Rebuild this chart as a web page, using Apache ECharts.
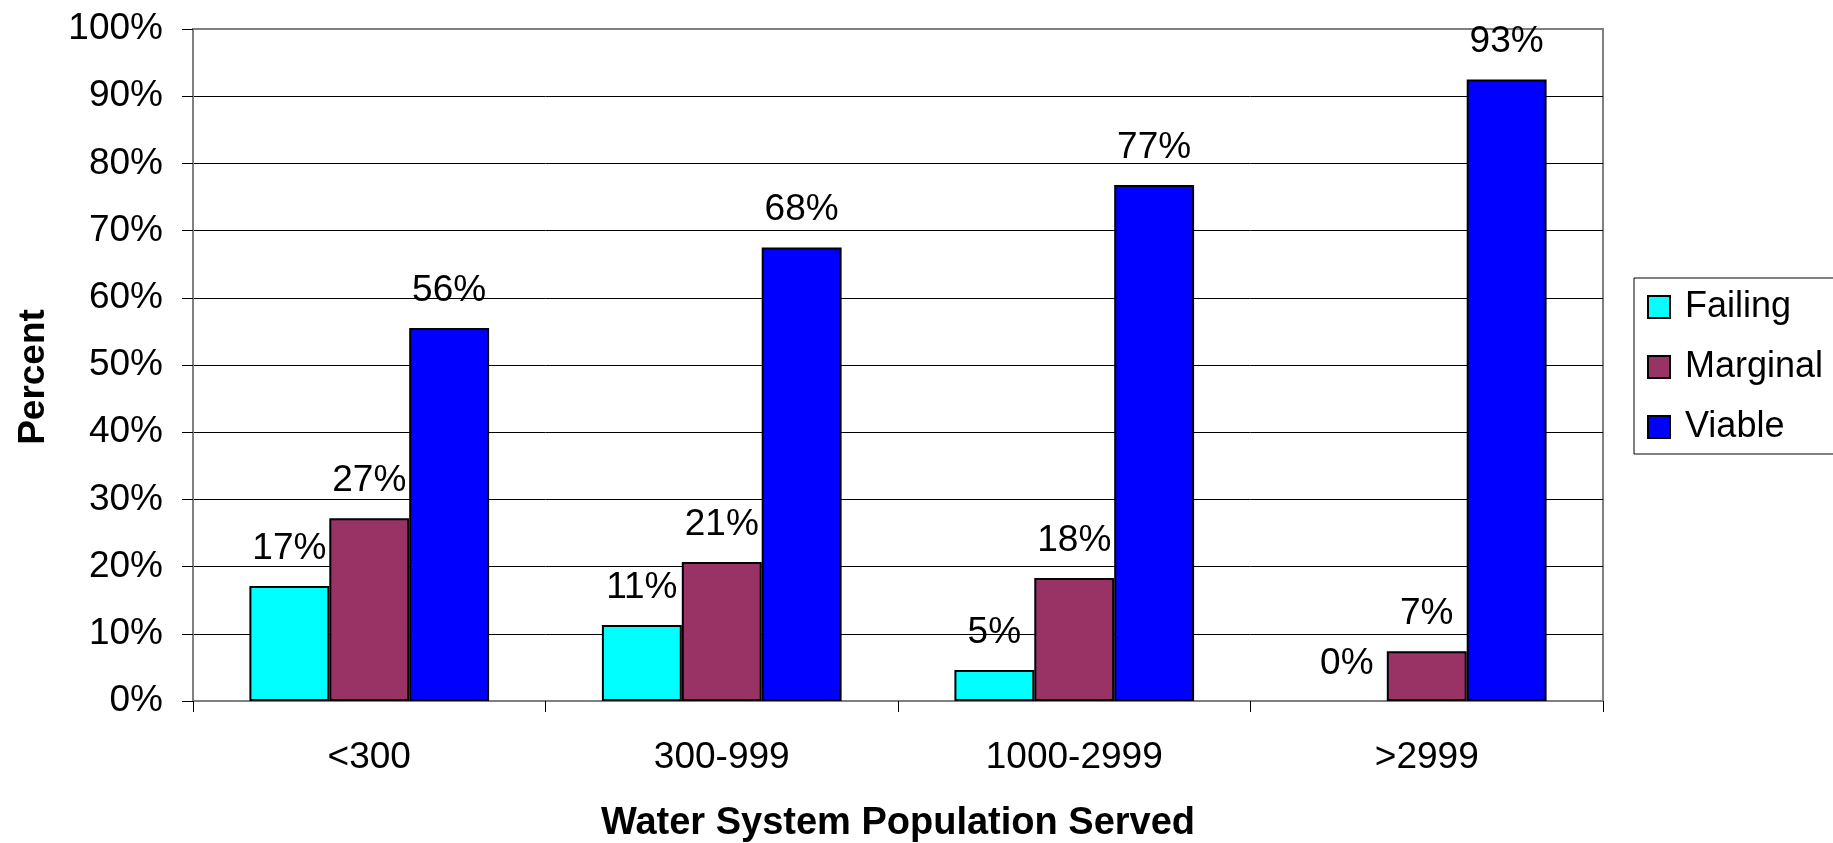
<!DOCTYPE html>
<html>
<head>
<meta charset="utf-8">
<title>Water System Viability by Population Served</title>
<script src="https://cdn.jsdelivr.net/npm/echarts@6/dist/echarts.min.js"></script>
<style>
  html, body { margin: 0; padding: 0; background: #ffffff; }
  #chart { width: 1833px; height: 843px; }
</style>
</head>
<body>
<div id="chart"></div>
<script>
// Population-served size classes
const categories = ['<300', '300-999', '1000-2999', '>2999'];

// Percent of water systems in each viability class
const failing  = [17.1, 11.3, 4.6, 0];
const marginal = [27.2, 20.7, 18.3, 7.4];
const viable   = [55.5, 67.5, 76.8, 92.5];

// Value axis ticks
const yTicks = [0, 10, 20, 30, 40, 50, 60, 70, 80, 90, 100];

const FONT = '"Liberation Sans", Arial, Helvetica, sans-serif';

// Zero-height bars keep their label but draw no outline
function toItems(values) {
  return values.map(v => v === 0 ? { value: v, itemStyle: { borderWidth: 0 } } : v);
}

function barSeries(name, data, color) {
  return {
    name: name,
    type: 'bar',
    data: toItems(data),
    barGap: '0%',
    barCategoryGap: '32%',
    itemStyle: { color: color, borderColor: '#000000', borderWidth: 2 },
    label: {
      show: true,
      position: 'top',
      distance: 19,
      formatter: p => Math.round(p.value) + '%',
      fontFamily: FONT,
      fontSize: 37,
      lineHeight: 37,
      color: '#000000'
    },
    emphasis: { disabled: true }
  };
}

const chart = echarts.init(document.getElementById('chart'), null, { renderer: 'canvas' });

chart.setOption({
  backgroundColor: '#ffffff',
  animation: false,
  textStyle: { fontFamily: FONT },
  grid: {
    left: 193, right: 230, top: 29, bottom: 142,
    outerBoundsMode: 'none',
    containLabel: false,
    show: true,
    borderColor: '#808080',
    borderWidth: 2,
    backgroundColor: 'transparent'
  },
  legend: {
    orient: 'vertical',
    left: 1634,
    top: 278,
    padding: [11, 12, 9, 13],
    itemGap: 24,
    itemWidth: 22,
    itemHeight: 22,
    icon: 'rect',
    borderColor: '#000000',
    borderWidth: 1,
    backgroundColor: '#ffffff',
    textStyle: {
      fontFamily: FONT,
      fontSize: 36,
      lineHeight: 36,
      color: '#000000',
      padding: [0, 0, 0, 10]
    },
    data: ['Failing', 'Marginal', 'Viable']
  },
  xAxis: {
    type: 'category',
    data: categories,
    boundaryGap: true,
    name: 'Water System Population Served',
    nameLocation: 'middle',
    nameGap: 104,
    nameTextStyle: {
      fontFamily: FONT, fontSize: 38, fontWeight: 'bold', color: '#000000', lineHeight: 38
    },
    axisLine: { show: true, lineStyle: { color: '#808080', width: 2 } },
    axisTick: { show: true, length: 11, alignWithLabel: false, lineStyle: { color: '#000000', width: 1 } },
    axisLabel: {
      margin: 38,
      fontFamily: FONT, fontSize: 37, lineHeight: 37, color: '#000000'
    },
    splitLine: { show: false }
  },
  yAxis: {
    type: 'value',
    min: yTicks[0],
    max: yTicks[yTicks.length - 1],
    interval: yTicks[1] - yTicks[0],
    name: 'Percent',
    nameLocation: 'middle',
    nameGap: 141,
    nameTextStyle: {
      fontFamily: FONT, fontSize: 37, fontWeight: 'bold', color: '#000000', lineHeight: 37,
      padding: [0, 24, 0, 0]
    },
    axisLine: { show: true, lineStyle: { color: '#808080', width: 2 } },
    axisTick: { show: true, length: 11, lineStyle: { color: '#000000', width: 1 } },
    axisLabel: {
      margin: 30,
      formatter: v => v + '%',
      fontFamily: FONT, fontSize: 37, color: '#000000'
    },
    splitLine: {
      show: true,
      lineStyle: {
        color: ['#000000', '#000000', '#000000', '#000000', '#000000', '#000000',
                '#000000', '#000000', '#000000', '#000000', '#808080'],
        width: 1
      }
    }
  },
  series: [
    barSeries('Failing', failing, '#00ffff'),
    barSeries('Marginal', marginal, '#993366'),
    barSeries('Viable', viable, '#0000ff')
  ]
});
</script>
</body>
</html>
